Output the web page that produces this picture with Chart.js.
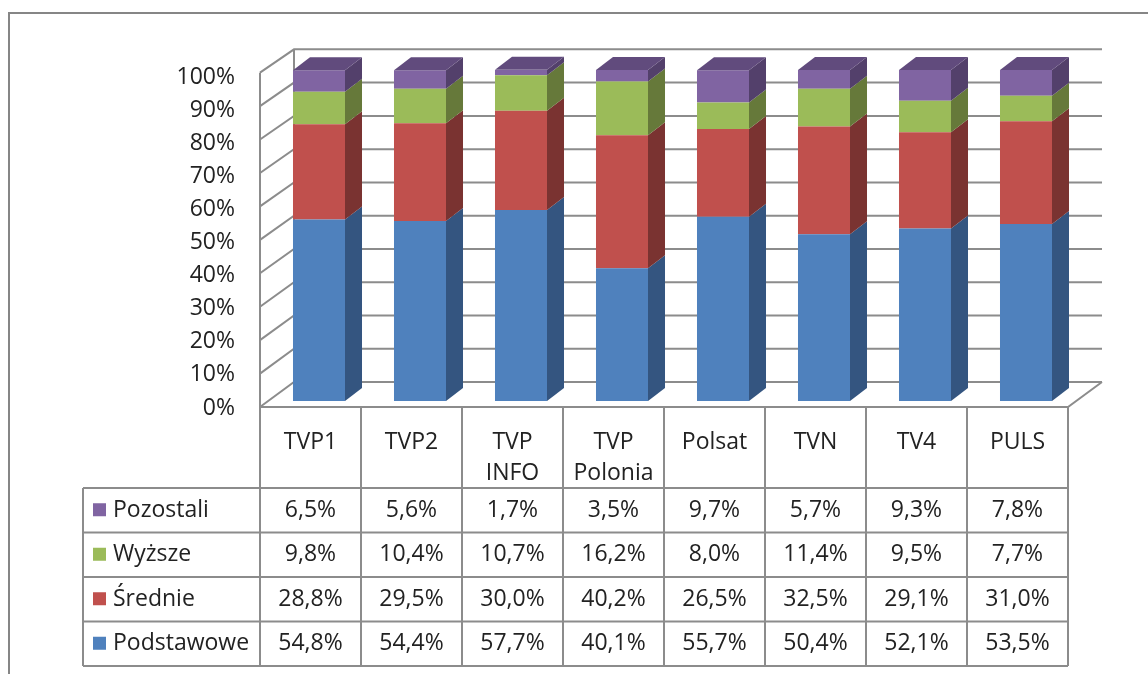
<!DOCTYPE html>
<html>
<head>
<meta charset="utf-8">
<script src="https://cdn.jsdelivr.net/npm/chart.js@4.4.0/dist/chart.umd.min.js"></script>
<style>
  html, body { margin: 0; padding: 0; background: #fff; }
  #wrap { width: 1148px; height: 674px; }
</style>
</head>
<body>
<div id="wrap"><canvas id="chart" width="1148" height="674"></canvas></div>
<script>
const categories = [["TVP1"], ["TVP2"], ["TVP", "INFO"], ["TVP", "Polonia"], ["Polsat"], ["TVN"], ["TV4"], ["PULS"]];
const podstawowe = [54.8, 54.4, 57.7, 40.1, 55.7, 50.4, 52.1, 53.5];
const srednie = [28.8, 29.5, 30.0, 40.2, 26.5, 32.5, 29.1, 31.0];
const wyzsze = [9.8, 10.4, 10.7, 16.2, 8.0, 11.4, 9.5, 7.7];
const pozostali = [6.5, 5.6, 1.7, 3.5, 9.7, 5.7, 9.3, 7.8];
const seriesNames = ["Podstawowe", "Średnie", "Wyższe", "Pozostali"];
const yTicks = [0, 10, 20, 30, 40, 50, 60, 70, 80, 90, 100];

const FONT = '"Open Sans", sans-serif';
const FONT_SIZE = 23;
const TEXT = "#222";
const LINE = "#8c8c8c";
const FRONT = ["#4f81bd", "#c0504d", "#9bbb59", "#8064a2"];
const SIDE = ["#345580", "#7a3331", "#66793a", "#53406b"];
const TOP = ["#41689a", "#9c413f", "#7e9848", "#614b7d"];

// depth of a bar, and the shift from the bar plane to the front plane
const DX = 17, DY = 13;
const FX = 8.5, FY = 6;

const fmt = (v) => v.toFixed(1).replace(".", ",") + "%";

function frontY(y, v) {
  const base = y.getPixelForValue(0);
  return base + FY + (y.getPixelForValue(v) - base) * 1.01;
}
function backY(y, v) {
  const base = y.getPixelForValue(0);
  return base - FY - DY + (y.getPixelForValue(v) - base) * 1.005;
}

const pseudo3d = {
  id: "pseudo3d",
  beforeDraw(chart) {
    const { ctx, width, height } = chart;
    ctx.save();
    ctx.fillStyle = "#fff";
    ctx.fillRect(0, 0, width, height);
    ctx.strokeStyle = "#868686";
    ctx.lineWidth = 2;
    ctx.beginPath();
    ctx.moveTo(9, height);
    ctx.lineTo(9, 13);
    ctx.lineTo(width, 13);
    ctx.stroke();
    ctx.restore();
  },
  beforeDatasetsDraw(chart) {
    const { ctx, chartArea: a } = chart;
    const y = chart.scales.y;
    const xf = a.left - FX, xb = a.left + FX + DX;
    const xr = a.right + FX + DX, xfr = a.right - FX;
    ctx.save();
    ctx.strokeStyle = LINE;
    ctx.lineWidth = 2;
    ctx.beginPath();
    yTicks.forEach((v) => {
      ctx.moveTo(xf, frontY(y, v));
      ctx.lineTo(xb, backY(y, v));
      ctx.lineTo(xr, backY(y, v));
    });
    ctx.moveTo(xf, frontY(y, 0));
    ctx.lineTo(xf, frontY(y, 100));
    ctx.moveTo(xb, backY(y, 0));
    ctx.lineTo(xb, backY(y, 100));
    ctx.moveTo(xf, frontY(y, 0));
    ctx.lineTo(xfr, frontY(y, 0));
    ctx.lineTo(xr, backY(y, 0));
    ctx.stroke();
    ctx.restore();
  },
  afterDatasetsDraw(chart) {
    const { ctx } = chart;
    const last = chart.data.datasets.length - 1;
    ctx.save();
    chart.data.datasets.forEach((ds, i) => {
      chart.getDatasetMeta(i).data.forEach((bar) => {
        const { x, y, base, width } = bar.getProps(["x", "y", "base", "width"], true);
        const l = x - width / 2, r = x + width / 2;
        ctx.fillStyle = SIDE[i];
        ctx.beginPath();
        ctx.moveTo(r, y);
        ctx.lineTo(r + DX, y - DY);
        ctx.lineTo(r + DX, base - DY);
        ctx.lineTo(r, base);
        ctx.closePath();
        ctx.fill();
        if (i === last) {
          ctx.fillStyle = TOP[i];
          ctx.beginPath();
          ctx.moveTo(l, y);
          ctx.lineTo(l + DX, y - DY);
          ctx.lineTo(r + DX, y - DY);
          ctx.lineTo(r, y);
          ctx.closePath();
          ctx.fill();
        }
      });
    });
    ctx.restore();
  },
  afterDraw(chart) {
    const { ctx } = chart;
    const xs = chart.scales.x, y = chart.scales.y;
    const step = xs.getPixelForValue(1) - xs.getPixelForValue(0);
    const centers = categories.map((c, j) => xs.getPixelForValue(j) - FX);
    const left = centers[0] - step / 2, right = centers[centers.length - 1] + step / 2;
    const legendLeft = 83;
    const top = frontY(y, 0);
    const headBottom = top + 81;
    const rowH = 44.5;
    const rows = chart.data.datasets.slice().reverse();
    const bottom = headBottom + rows.length * rowH;

    ctx.save();
    ctx.strokeStyle = LINE;
    ctx.lineWidth = 2;
    ctx.beginPath();
    ctx.moveTo(left, top);
    ctx.lineTo(right, top);
    for (let k = 0; k <= rows.length; k++) {
      ctx.moveTo(legendLeft, headBottom + k * rowH);
      ctx.lineTo(right, headBottom + k * rowH);
    }
    ctx.moveTo(legendLeft, headBottom);
    ctx.lineTo(legendLeft, bottom);
    for (let j = 0; j <= centers.length; j++) {
      const xx = left + j * step;
      ctx.moveTo(xx, top);
      ctx.lineTo(xx, bottom);
    }
    ctx.stroke();

    ctx.fillStyle = TEXT;
    ctx.font = FONT_SIZE + "px " + FONT;
    ctx.textAlign = "center";
    ctx.textBaseline = "middle";
    categories.forEach((lines, j) => {
      lines.forEach((t, k) => ctx.fillText(t, centers[j], top + 35 + k * 31.5));
    });

    rows.forEach((ds, k) => {
      const cy = headBottom + k * rowH + rowH / 2;
      ctx.fillStyle = ds.backgroundColor;
      ctx.fillRect(93, cy - 7, 13, 13);
      ctx.fillStyle = TEXT;
      ctx.textAlign = "left";
      ctx.fillText(ds.label, 113, cy);
      ctx.textAlign = "center";
      ds.data.forEach((v, j) => ctx.fillText(fmt(v), centers[j], cy));
    });
    ctx.restore();
  },
};

const series = [podstawowe, srednie, wyzsze, pozostali];

new Chart(document.getElementById("chart"), {
  type: "bar",
  data: {
    labels: categories,
    datasets: series.map((d, i) => ({
      label: seriesNames[i],
      data: d,
      backgroundColor: FRONT[i],
      borderWidth: 0,
      barPercentage: 0.515,
      categoryPercentage: 1,
    })),
  },
  options: {
    responsive: false,
    animation: false,
    layout: { padding: { left: 0, top: 70, right: 71.5, bottom: 273 } },
    plugins: { legend: { display: false }, tooltip: { enabled: false } },
    scales: {
      x: { stacked: true, display: false },
      y: {
        stacked: true,
        min: 0,
        max: 100,
        grid: { display: false, drawTicks: false },
        border: { display: false },
        ticks: {
          stepSize: 10,
          padding: 33.5,
          labelOffset: 7,
          color: TEXT,
          font: { family: FONT, size: FONT_SIZE },
          callback: (v) => v + "%",
        },
        afterFit: (scale) => {
          scale.width = 268.5;
        },
      },
    },
  },
  plugins: [pseudo3d],
});
</script>
</body>
</html>
